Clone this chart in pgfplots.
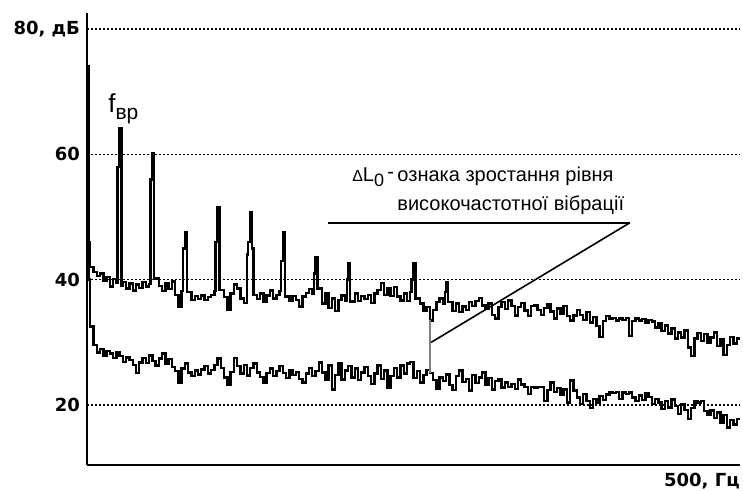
\documentclass[border=0pt]{standalone}
\usepackage{fontspec}
\setmainfont{Liberation Sans}
\newfontfamily\labelfont{DejaVu Sans}
\usepackage{pgfplots}
\pgfplotsset{compat=1.18}

% Spectrum after the defect develops (upper trace)
\newcommand{\upperdata}{%
(0,74) (1,46) (2.5,42) (5,41.2) (7.5,40.6) (10,41.0) (12.5,39.8) (15,40.4) (17.5,38.9) (20,40.1) (22.5,39.5)
(23.5,58) (25,64.2) (26.5,39.0) (27.5,39.6) (30,38.6) (32.5,39.4) (35,38.3) (37.5,39.2) (40,38.7) (42.5,39.6) (45,38.9) (47.5,39.3)
(48.5,56) (50,60.2) (51.5,40.2) (55,39.0) (57.5,38.2) (60,39.4) (62.5,38.5) (65,39.7) (67.5,37.6) (70,35.6) (72.5,38.2)
(73.5,45) (75,47.6) (76.5,38.0) (80,36.8) (82.5,37.4) (85,36.9) (87.5,37.5) (90,36.8) (92.5,37.2) (95,37.6) (97.5,38.2)
(98.5,46) (100,51.5) (101.5,38.4) (105,37.2) (107.5,35.2) (110,37.8) (112.5,39.2) (115,38.6) (117.5,37.0) (120,36.3)
(122.5,44) (123.5,46) (125,50.7) (126.5,45) (127.5,37.6) (130,36.9) (132.5,37.8) (135,36.4) (137.5,37.5) (140,38.3) (142.5,37.0) (145,37.6) (147.5,38.2)
(148.5,43) (150,47.6) (151.5,37.3) (155,36.6) (157.5,37.4) (160,36.8) (162.5,35.7) (165,37.3) (167.5,37.9) (170,38.5) (172.5,37.8)
(174,41) (175,43.6) (176.5,38.6) (180,36.2) (182.5,37.8) (185,35.5) (187.5,37.0) (190,35.0) (192.5,36.8) (195,37.5) (197.5,36.6)
(199,40) (200,42.7) (201.5,36.5) (205,37.8) (207.5,36.6) (210,37.4) (212.5,36.9) (215,37.6) (217.5,36.3) (220,37.8) (222.5,38.4)
(225,39.5) (227.5,37.6) (230,38.6) (232.5,37.4) (235,38.8) (237.5,37.3) (240,36.7) (242.5,37.8) (245,36.6) (247.5,38.0)
(248.5,40) (250,42.7) (251.5,37.0) (255,36.2) (257.5,35.0) (260,35.6) (262.5,33.5) (265,35.2) (267.5,36.4) (270,37.0) (272.5,36.1)
(274,38) (275,39.6) (276.5,36.4) (280,35.0) (282.5,36.2) (285,34.8) (287.5,35.7) (290,35.2) (292.5,36.4) (295,35.8) (297.5,36.6)
(300,37.1) (302.5,35.9) (305,35.4) (307.5,36.2) (310,34.4) (312.5,33.8) (315,35.6) (317.5,36.4) (320,35.3) (322.5,36.7)
(325,35.8) (327.5,34.3) (330,35.6) (332.5,36.3) (335,35.1) (337.5,34.2) (340,35.8) (342.5,36.0) (345,35.2) (347.5,34.4)
(350,35.5) (352.5,36.1) (355,34.9) (357.5,33.8) (360,35.4) (362.5,34.6) (365,35.8) (367.5,34.2) (370,33.5) (372.5,34.3)
(375,35.2) (377.5,34.4) (380,33.6) (382.5,34.8) (385,33.2) (387.5,34.0) (390,32.6) (392.5,30.9) (395,33.4) (397.5,34.2)
(400,33.7) (402.5,33.9) (405,33.5) (407.5,33.8) (410,33.6) (412.5,33.9) (415,31.0) (417.5,33.4) (420,33.8) (422.5,33.5)
(425,33.7) (427.5,33.2) (430,33.6) (432.5,33.3) (435,32.4) (437.5,33.0) (440,31.8) (442.5,32.7) (445,31.4) (447.5,32.2)
(450,30.6) (452.5,31.6) (455,30.8) (457.5,31.9) (460,29.2) (462.5,27.8) (465,30.6) (467.5,31.5) (470,30.2) (472.5,31.3)
(475,29.9) (477.5,30.8) (480,31.6) (482.5,29.4) (485,30.5) (487.5,28.0) (490,29.6) (492.5,30.9) (495,29.8) (497.5,30.6) (500,30.6)}

% Spectrum of the sound machine (lower trace)
\newcommand{\lowerdata}{%
(0,56) (1,40) (2.5,32.5) (5,29.6) (7.5,28.4) (10,28.9) (12.5,27.9) (15,28.6) (17.5,28.2) (20,27.5) (22.5,28.4)
(25,27.8) (27.5,26.9) (30,27.6) (32.5,27.2) (35,26.4) (37.5,25.1) (40,26.8) (42.5,27.5) (45,26.7) (47.5,27.9)
(50,27.0) (52.5,26.3) (55,27.4) (57.5,28.2) (60,26.6) (62.5,27.3) (65,26.1) (67.5,25.4) (70,23.6) (72.5,25.8)
(75,26.6) (77.5,25.2) (80,24.6) (82.5,25.5) (85,24.9) (87.5,25.7) (90,26.2) (92.5,25.0) (95,25.6) (97.5,26.4)
(100,27.4) (102.5,25.9) (105,24.4) (107.5,23.2) (110,25.3) (112.5,27.5) (115,26.2) (117.5,25.0) (120,26.4) (122.5,24.7)
(125,25.9) (127.5,26.6) (130,25.2) (132.5,24.5) (135,23.5) (137.5,25.1) (140,25.8) (142.5,24.6) (145,25.4) (147.5,26.2)
(150,25.1) (152.5,24.3) (155,25.6) (157.5,24.8) (160,25.3) (162.5,24.2) (165,23.6) (167.5,25.0) (170,25.9) (172.5,24.6)
(175,25.4) (177.5,26.8) (180,25.2) (182.5,24.0) (185,26.3) (187.5,22.5) (190,24.8) (192.5,26.6) (195,24.1) (197.5,25.5)
(200,26.2) (202.5,24.4) (205,25.8) (207.5,24.0) (210,25.2) (212.5,26.1) (215,24.6) (217.5,23.4) (220,25.0) (222.5,26.3)
(225,24.2) (227.5,25.5) (230,22.8) (232.5,24.6) (235,25.9) (237.5,24.4) (240,26.3) (242.5,25.0) (245,26.6) (247.5,26.9)
(250,24.3) (252.5,25.4) (255,23.6) (257.5,24.8) (260,25.6) (262.5,25.1) (265,24.0) (267.5,22.6) (270,24.4) (272.5,23.8)
(275,24.9) (277.5,23.2) (280,22.4) (282.5,24.6) (285,25.5) (287.5,23.7) (290,24.2) (292.5,22.3) (295,24.8) (297.5,23.5)
(300,24.4) (302.5,25.2) (305,23.3) (307.5,24.3) (310,22.5) (312.5,23.8) (315,24.2) (317.5,22.8) (320,23.6) (322.5,22.9)
(325,23.4) (327.5,22.6) (330,24.1) (332.5,23.3) (335,22.9) (337.5,21.8) (340,22.9) (342.5,22.8) (345,22.9) (347.5,22.9)
(350,20.6) (352.5,22.4) (355,23.6) (357.5,22.1) (360,22.7) (362.5,21.6) (365,22.5) (367.5,20.4) (370,23.9) (372.5,22.3)
(375,21.2) (377.5,20.2) (380,21.8) (382.5,20.6) (385,19.5) (387.5,21.0) (390,20.3) (392.5,21.4) (395,20.8) (397.5,21.7)
(400,22.0) (402.5,21.9) (405,22.1) (407.5,21.0) (410,22.0) (412.5,21.8) (415,22.0) (417.5,21.2) (420,20.6) (422.5,21.5)
(425,20.8) (427.5,21.9) (430,21.3) (432.5,20.2) (435,21.0) (437.5,20.4) (440,19.4) (442.5,20.6) (445,19.6) (447.5,20.9)
(450,19.8) (452.5,18.6) (455,20.1) (457.5,19.2) (460,17.8) (462.5,19.5) (465,20.6) (467.5,20.4) (470,20.6) (472.5,19.0)
(475,18.4) (477.5,19.1) (480,17.9) (482.5,18.8) (485,17.2) (487.5,18.4) (490,16.4) (492.5,17.6) (495,16.9) (497.5,17.8) (500,17.8)}

\begin{document}
\begin{tikzpicture}
\begin{axis}[
  name=ax,
  scale only axis,
  width=326.5pt, height=226pt,
  xmin=0, xmax=500,
  ymin=10.43, ymax=82.55,
  axis x line=bottom, axis y line=left,
  axis line style={-, line width=1pt},
  xtick=\empty,
  ytick={20,40,60,80},
  yticklabels={20,40,60,{80, дБ}},
  major tick length=0pt,
  yticklabel style={font=\labelfont\fontsize{9}{11}\selectfont\bfseries},
  ymajorgrids,
  grid style={black, line width=0.8pt, dash pattern=on 0.8pt off 1.2pt},
]
\addplot[const plot, black, line width=1.2pt] coordinates {\upperdata};
\addplot[const plot, black, line width=1.2pt] coordinates {\lowerdata};
% level difference marker
\addplot[gray, line width=1pt] coordinates {(262.5,25.1) (262.5,33.5)};

% leader lines of the annotation
\draw[line width=1.1pt] (axis cs:184.5,49.1) -- (axis cs:415.8,49.1);
\draw[line width=0.8pt] (axis cs:415.8,49.1) -- (axis cs:263.5,30.0);

\node[anchor=base west, inner sep=0, font=\fontsize{10}{12}\selectfont]
  at (axis cs:237.4,55.6)
  {\llap{{\fontsize{8}{10}\selectfont Δ}L\raisebox{-0.45ex}{\fontsize{9}{10}\selectfont 0}\,\raisebox{0.3ex}{-}\,}ознака зростання рівня};
\node[anchor=base west, inner sep=0, font=\fontsize{10}{12}\selectfont]
  at (axis cs:237.4,51.1) {високочастотної вібрації};

\node[anchor=base west, inner sep=0]
  at (axis cs:16,66.6)
  {\fontsize{13}{15}\selectfont f\raisebox{-3.5pt}{\fontsize{10.5}{12}\selectfont вр}};
\end{axis}
\node[anchor=north east, inner sep=0, font=\labelfont\fontsize{9}{11}\selectfont\bfseries]
  at ([yshift=-4pt]ax.south east) {500, Гц};
\pgfresetboundingbox
\path ([shift={(-43.5pt,-12.5pt)}]ax.south west) rectangle ([shift={(1.5pt,6.5pt)}]ax.north east);
\end{tikzpicture}
\end{document}
